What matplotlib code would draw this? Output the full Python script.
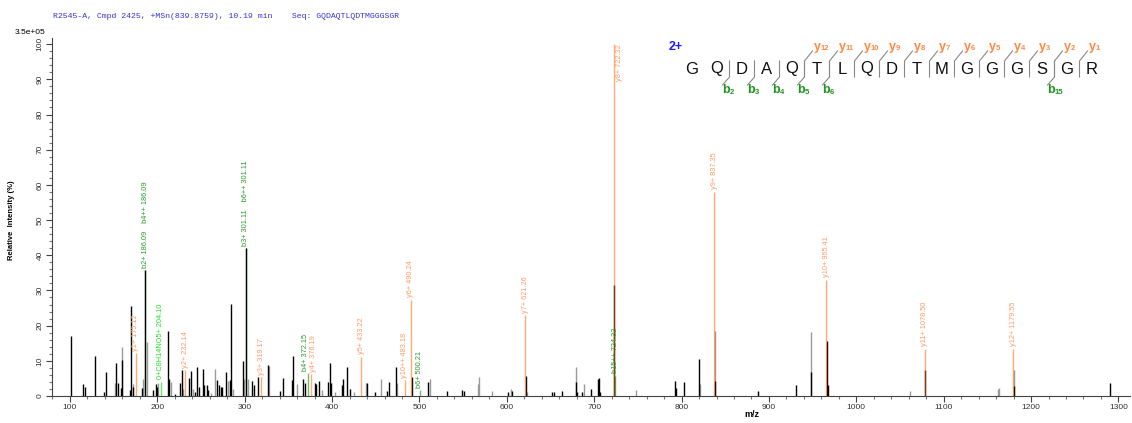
import matplotlib.pyplot as plt
from matplotlib.ticker import MultipleLocator

plt.rcParams['font.family'] = ['Liberation Sans', 'DejaVu Sans']

## unassigned peaks (m/z, relative intensity %)
black_mz = [101.0, 115.0, 117.0, 128.6, 139.0, 141.6, 153.0, 155.3, 158.0, 159.2,
            168.6, 169.4, 171.7, 182.0, 186.1, 195.3, 198.0, 200.0, 212.5, 213.6,
            220.0, 225.9, 227.8, 236.5, 238.0, 243.0, 245.0, 248.0, 252.5, 253.3,
            256.4, 258.0, 267.8, 270.8, 272.4, 273.5, 278.5, 283.0, 284.6, 297.6,
            301.1, 308.6, 310.5, 315.5, 327.0, 340.3, 343.3, 354.4, 355.5, 367.0,
            369.0, 380.7, 382.0, 384.5, 395.6, 398.0, 399.3, 411.0, 412.8, 416.6,
            421.0, 440.0, 449.0, 463.0, 465.4, 473.0, 492.0, 510.0, 531.7, 549.0,
            551.0, 601.5, 606.0, 621.7, 652.0, 653.8, 663.0, 679.7, 680.4, 686.6,
            696.9, 704.5, 705.7, 707.0, 722.6, 792.2, 793.4, 802.8, 820.0, 838.5,
            887.5, 931.4, 948.6, 966.0, 967.7, 1079.0, 1181.0, 1290.0]
black_int = [17.0, 3.5, 2.5, 11.5, 1.2, 6.9, 9.3, 3.6, 2.3, 10.2,
             1.7, 25.7, 2.7, 2.3, 35.8, 1.7, 3.4, 2.6, 18.5, 4.8,
             0.6, 3.8, 7.4, 5.0, 7.1, 1.2, 8.3, 2.7, 7.7, 3.1,
             3.1, 1.7, 4.5, 3.1, 2.5, 2.7, 6.9, 4.5, 26.1, 10.0,
             42.0, 4.3, 3.1, 5.3, 8.8, 1.5, 5.0, 4.5, 11.4, 4.8,
             3.8, 3.8, 3.4, 4.3, 4.0, 9.5, 3.7, 3.1, 4.8, 8.2,
             1.9, 3.8, 1.2, 1.5, 4.0, 8.3, 5.4, 4.0, 1.4, 1.7,
             1.5, 1.2, 1.4, 5.8, 1.1, 1.1, 1.4, 4.1, 1.1, 1.2,
             2.0, 4.8, 5.2, 1.2, 31.5, 4.3, 2.2, 3.9, 10.6, 4.4,
             1.4, 3.1, 6.7, 15.6, 3.1, 7.4, 2.8, 3.7]

grey_mz = [151.5, 159.9, 172.4, 183.5, 187.7, 200.5, 215.6, 229.6, 240.4, 261.0,
           266.5, 280.5, 286.9, 299.0, 303.3, 327.5, 359.4, 389.0, 403.0, 425.0,
           438.7, 455.5, 474.5, 512.0, 566.5, 568.3, 583.6, 604.6, 623.6, 679.0,
           688.0, 748.4, 820.6, 838.0, 948.2, 1061.0, 1162.0, 1163.0, 1180.5]
grey_int = [3.6, 13.8, 3.4, 4.8, 15.4, 3.7, 4.1, 2.0, 2.0, 0.8,
            7.6, 4.3, 1.9, 4.7, 4.7, 8.5, 3.4, 1.7, 1.2, 1.2,
            3.8, 4.8, 3.8, 4.8, 3.4, 5.4, 1.4, 2.0, 1.1, 8.2,
            3.4, 1.7, 3.4, 18.5, 18.1, 1.5, 2.0, 2.2, 7.4]

## assigned fragment ions
ion_mz = [175.12, 186.09, 204.10, 232.14, 301.11, 319.17, 372.15, 376.19, 433.22,
          483.18, 490.24, 500.21, 621.26, 722.32, 724.32, 837.35, 965.41, 1078.50,
          1179.55]
ion_int = [12.2, 35.8, 4.0, 7.4, 42.0, 5.4, 6.4, 6.2, 11.2,
           4.5, 27.3, 1.7, 23.0, 100.0, 5.7, 58.0, 33.0, 13.5,
           13.5]
ion_label = ['y1+ 175.12', 'b2+ 186.09    b4++ 186.09', '0+C8H14NO5+ 204.10',
             'y2+ 232.14', 'b3+ 301.11    b6++ 301.11', 'y3+ 319.17', 'b4+ 372.15',
             'y4+ 376.19', 'y5+ 433.22', 'y10++ 483.18', 'y6+ 490.24', 'b6+ 500.21',
             'y7+ 621.26', 'y8+ 722.32', 'b15++ 724.32', 'y9+ 837.35', 'y10+ 965.41',
             'y11+ 1078.50', 'y12+ 1179.55']
ion_type = ['y', 'b', 'n', 'y', 'b', 'y', 'b', 'y', 'y', 'y', 'y', 'b', 'y', 'y', 'b',
            'y', 'y', 'y', 'y']

sequence = 'GQDAQTLQDTMGGGSGR'
y_cleavages = [12, 11, 10, 9, 8, 7, 6, 5, 4, 3, 2, 1]
b_cleavages = [2, 3, 4, 5, 6, 15]

line_col = {'y': '#ff6600', 'b': '#009900', 'n': '#00dd00'}
text_col = {'y': '#ff9a66', 'b': '#2a9a2a', 'n': '#22e022'}

fig = plt.figure(figsize=(11.32, 4.23), dpi=100)
ax = fig.add_axes([0.0459, 0.0638, 0.952, 0.846])

ax.vlines(grey_mz, 0, grey_int, color='#9a9a9a', lw=1.0)
# b ions under the raw peaks, y ions over them (gives the brown overlap)
for mz, h, t in zip(ion_mz, ion_int, ion_type):
    if t != 'y':
        ax.vlines(mz, 0, h, color=line_col[t], alpha=0.6, lw=1.0)
ax.vlines(black_mz, 0, black_int, color='#000000', lw=1.0)
for mz, h, lab, t in zip(ion_mz, ion_int, ion_label, ion_type):
    if t == 'y':
        ax.vlines(mz, 0, h, color=line_col[t], alpha=0.55, lw=1.0)
    if h > 90:
        ax.text(mz + 3, h, lab, rotation=90, ha='left', va='top',
                fontsize=5.3, color=text_col[t])
    else:
        # the b4+/y4+ pair sits 4 Da apart, nudge them so they don't pile up
        dx = -2.5 if lab.startswith('b4+ ') else (2.0 if lab.startswith('y4+') else 0)
        ax.text(mz + dx, h + 0.7, lab, rotation=90, ha='center', va='bottom',
                fontsize=5.3, color=text_col[t])

ax.set_xlim(79.4, 1312.8)
ax.set_ylim(0, 101.7)
ax.xaxis.set_major_locator(MultipleLocator(100))
ax.xaxis.set_minor_locator(MultipleLocator(20))
ax.yaxis.set_major_locator(MultipleLocator(10))
ax.yaxis.set_minor_locator(MultipleLocator(2))
ax.tick_params(which='major', direction='out', length=4, width=0.8, color='#444444',
               labelsize=6, labelcolor='#333333', pad=2)
ax.tick_params(which='minor', direction='out', length=2.5, width=0.8, color='#777777')
for lab in ax.get_yticklabels():
    lab.set_rotation(90)
    lab.set_va('center')
for s in ['top', 'right']:
    ax.spines[s].set_visible(False)
for s in ['left', 'bottom']:
    ax.spines[s].set_color('#444444')
    ax.spines[s].set_linewidth(0.8)

fig.text(752 / 1132, 1 - 414 / 423, 'm/z', fontsize=6.5, fontweight='bold',
         ha='center', va='center')
fig.text(0.0106, 0.48, 'Relative  Intensity (%)', rotation=90, ha='center', va='center',
         fontsize=5.5, fontweight='bold')
fig.text(0.013, 0.924, '3.5e+05', fontsize=6, va='center')
fig.text(0.047, 0.962, 'R2545-A, Cmpd 2425, +MSn(839.8759), 10.19 min    Seq: GQDAQTLQDTMGGGSGR',
         family='Liberation Mono', fontsize=5.9, color='#3333cc', va='center')

# sequence coverage sketch, in pixel coords
ov = fig.add_axes([0, 0, 1, 1], facecolor='none')
ov.set_xlim(0, 1132)
ov.set_ylim(423, 0)
ov.axis('off')
x0, step, yc = 692, 25.0, 69
ov.text(669, 47, '2+', fontsize=9, fontweight='bold', color='#1a1aff', va='center')
for i, aa in enumerate(sequence):
    ov.text(x0 + i * step, yc, aa, fontsize=12, ha='center', va='center', color='#111111')
for k in y_cleavages:
    i = len(sequence) - k
    xs = x0 + (i - 0.5) * step
    ov.plot([xs, xs, xs + 8], [77, 61, 51], color='#888888', lw=0.8)
    ov.text(xs + 9, 47, 'y', fontsize=9, fontweight='bold', color='#ff8844', va='center')
    ov.text(xs + 16.5, 48.5, str(k), fontsize=5.5, fontweight='bold', color='#ff8844',
            va='center')
for k in b_cleavages:
    xs = x0 + (k - 0.5) * step
    ov.plot([xs, xs, xs - 7], [61, 77, 85], color='#888888', lw=0.8)
    ov.text(xs - 7, 90, 'b', fontsize=9, fontweight='bold', color='#1e961e', va='center')
    ov.text(xs, 92, str(k), fontsize=5.5, fontweight='bold', color='#1e961e', va='center')

fig.savefig('out.png', dpi=100)
